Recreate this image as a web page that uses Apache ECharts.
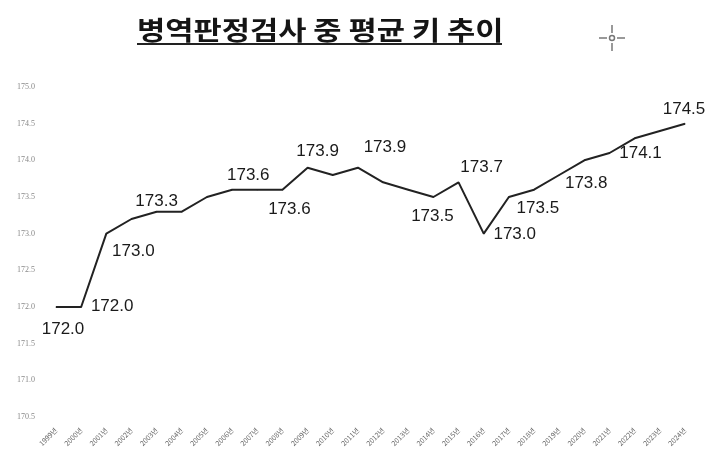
<!DOCTYPE html>
<html>
<head>
<meta charset="utf-8">
<script src="https://cdn.jsdelivr.net/npm/echarts@6/dist/echarts.min.js"></script>
<style>html,body{margin:0;padding:0;background:#fff}#c{width:719px;height:459px}</style>
</head>
<body>
<div id="c"></div>
<script>
const titleText = '병역판정검사 중 평균 키 추이';
const years = ['1999','2000','2001','2002','2003','2004','2005','2006','2007','2008','2009','2010','2011','2012','2013','2014','2015','2016','2017','2018','2019','2020','2021','2022','2023','2024'];
const heights = [172.0,172.0,173.0,173.2,173.3,173.3,173.5,173.6,173.6,173.6,173.9,173.8,173.9,173.7,173.6,173.5,173.7,173.0,173.5,173.6,173.8,174.0,174.1,174.3,174.4,174.5];
const labeledYears = ['1999','2000','2001','2003','2007','2008','2009','2011','2014','2015','2016','2017','2019','2021','2024'];
const yMin = 170.5, yMax = 175.0, yStep = 0.5;

// label placement (style only): offset of label centre from the point
const labelOffsets = {
  '1999':[7,22],'2000':[31,-1],'2001':[27,18],'2003':[0,-10],'2007':[-9,-14],
  '2008':[7,20],'2009':[10,-16],'2011':[27,-20],'2014':[-1,19],'2015':[23,-15],
  '2016':[31,1],'2017':[29,11],'2019':[27,8],'2021':[31,0],'2024':[-1,-14]
};

const seriesData = heights.map((v, i) => {
  const y = years[i];
  const item = { value: v };
  if (labeledYears.indexOf(y) >= 0) {
    item.label = { show: true, position: 'inside', offset: labelOffsets[y] || [0,-14] };
  }
  return item;
});

const chart = echarts.init(document.getElementById('c'));
chart.setOption({
  animation: false,
  backgroundColor: '#fff',
  graphic: [
    { type: 'text', x: 137, y: 30, scaleX: 1.18, originX: 0, originY: 0,
      style: { text: titleText, font: 'bold 26px "Noto Sans CJK KR"', fill: '#151515', textAlign: 'left', textVerticalAlign: 'middle', verticalAlign: 'middle' } },
    { type: 'line', shape: { x1: 137, y1: 44, x2: 502, y2: 44 }, style: { stroke: '#222', lineWidth: 2 } },
    { type: 'circle', shape: { cx: 612, cy: 38, r: 2.5 }, style: { fill: 'none', stroke: '#777', lineWidth: 1.5 } },
    { type: 'line', shape: { x1: 599, y1: 38, x2: 607, y2: 38 }, style: { stroke: '#777', lineWidth: 1.5 } },
    { type: 'line', shape: { x1: 617, y1: 38, x2: 625, y2: 38 }, style: { stroke: '#777', lineWidth: 1.5 } },
    { type: 'line', shape: { x1: 612, y1: 25, x2: 612, y2: 33 }, style: { stroke: '#777', lineWidth: 1.5 } },
    { type: 'line', shape: { x1: 612, y1: 43, x2: 612, y2: 51 }, style: { stroke: '#777', lineWidth: 1.5 } }
  ],
  grid: { left: 56, right: 34, top: 87, bottom: 42, containLabel: false },
  xAxis: {
    type: 'category',
    data: years,
    boundaryGap: false,
    axisLine: { show: false },
    axisTick: { show: false },
    splitLine: { show: false },
    axisLabel: {
      interval: 0, rotate: 45, fontSize: 7, color: '#666', margin: 12,
      fontFamily: 'Noto Sans CJK KR',
      formatter: v => v + '년'
    }
  },
  yAxis: {
    type: 'value',
    min: yMin, max: yMax, interval: yStep,
    axisLine: { show: false },
    axisTick: { show: false },
    splitLine: { show: false },
    axisLabel: {
      fontSize: 8, color: '#888', margin: 21, fontFamily: 'Liberation Serif',
      formatter: v => v.toFixed(1)
    }
  },
  series: [{
    type: 'line',
    data: seriesData,
    symbol: 'circle',
    symbolSize: 1,
    showSymbol: true,
    itemStyle: { color: '#222' },
    lineStyle: { color: '#222', width: 2 },
    label: {
      show: false,
      fontFamily: 'Liberation Sans',
      fontSize: 17,
      color: '#1a1a1a',
      align: 'center',
      verticalAlign: 'middle',
      formatter: p => p.value.toFixed(1)
    }
  }]
});
</script>
</body>
</html>
